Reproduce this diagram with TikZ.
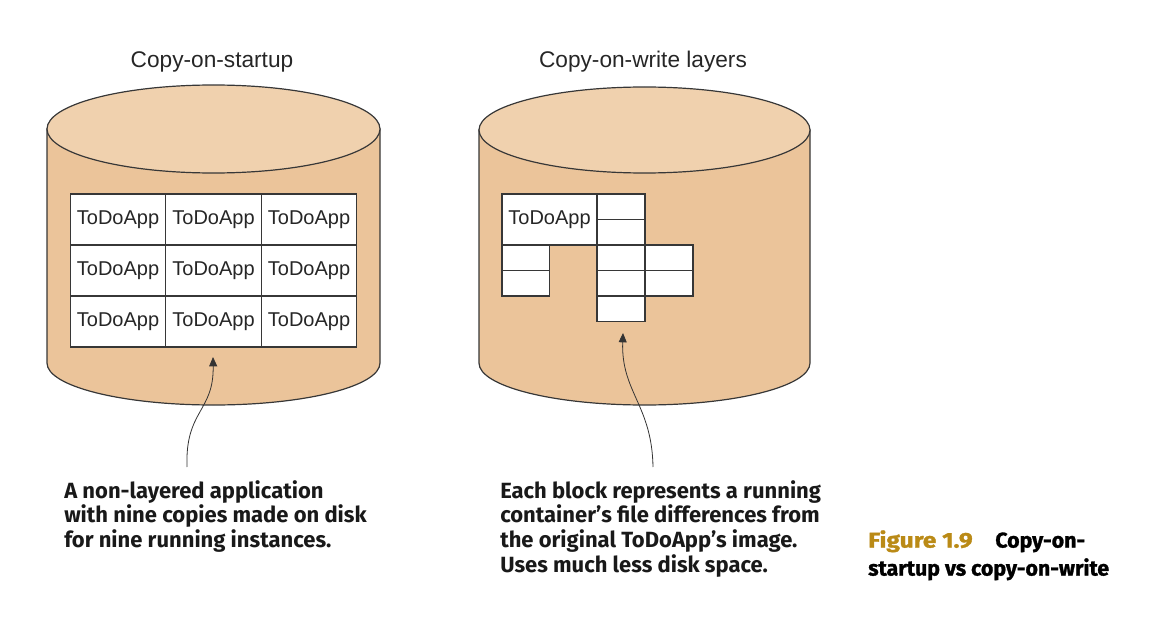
\documentclass[tikz,border=0pt]{standalone}
\usepackage{fontspec}
\usepackage{graphicx}
\setmainfont{Liberation Sans}
\newfontfamily\annfont{Fira Sans}
\newfontfamily\capfont{Fira Sans}[BoldFeatures={FakeBold=1.3}]
\usetikzlibrary{arrows.meta}
\definecolor{cylbody}{RGB}{235,196,154}
\definecolor{cyltop}{RGB}{240,209,174}
\definecolor{edge}{RGB}{55,55,55}
\definecolor{gold}{RGB}{186,138,22}
\tikzset{
  cylline/.style={draw=edge, line width=0.9pt},
  cell/.style={draw=edge, fill=white, line width=0.9pt, inner sep=0pt, font=\fontsize{15}{18}\selectfont, text=black!85},
  bigcell/.style={cell, minimum width=71.8pt, minimum height=38.25pt},
  smallcell/.style={cell, minimum width=36pt, minimum height=19.1pt},
  titletext/.style={font=\fontsize{17}{20}\selectfont, text=black!85},
  anntext/.style={font=\annfont\bfseries\fontsize{16.5}{18.5}\selectfont, align=left, anchor=north west, inner sep=0pt, text=black!90},
  pointer/.style={draw=black!80, line width=0.6pt, -{Triangle[length=7pt,width=6pt]}}
}
\begin{document}
\begin{tikzpicture}[x=0.75pt, y=-0.75pt]
\useasboundingbox (0,0) rectangle (1170,624);
% ---- left cylinder
\path[cylline, fill=cylbody] (47,129) -- (47,363) arc[start angle=180, end angle=0, x radius=166.5, y radius=42] -- (380,129) -- cycle;
\path[cylline, fill=cyltop] (213.5,129) ellipse[x radius=166.5, y radius=44];
% ---- right cylinder
\path[cylline, fill=cylbody] (479,130) -- (479,363) arc[start angle=180, end angle=0, x radius=165.5, y radius=42] -- (810,130) -- cycle;
\path[cylline, fill=cyltop] (644.5,130) ellipse[x radius=165.5, y radius=43];
% ---- titles
\node[titletext] (t1) at (212,62) {Copy-on-startup};
\node[titletext] (t2) at (643,62) {Copy-on-write layers};
% ---- left grid
\foreach \c/\x in {1/118,2/213.5,3/309}{
  \foreach \r/\y in {1/219.5,2/270.5,3/321.5}{
    \node[bigcell] (a\c\r) at (\x,\y) {ToDoApp};
  }
}
% ---- right blocks
\node[bigcell, minimum width=71.3pt] (base) at (549.5,219.5) {ToDoApp};
\foreach \r/\y in {1/206.75,2/232.25,3/257.75,4/283.25,5/308.75}{
  \node[smallcell] (m\r) at (621,\y) {};
}
\node[smallcell, minimum width=35.6pt] (l1) at (525.75,257.75) {};
\node[smallcell, minimum width=35.6pt] (l2) at (525.75,283.25) {};
\node[smallcell] (r1) at (669,257.75) {};
\node[smallcell] (r2) at (669,283.25) {};
% ---- pointers
\coordinate (p1s) at (187,467);
\coordinate (p1e) at (213,357);
\coordinate (p2s) at (653,467);
\coordinate (p2e) at (623,333);
\draw[pointer] (p1s) .. controls (185,410) and (214,412) .. (p1e);
\draw[pointer] (p2s) .. controls (652,405) and (621,392) .. (p2e);
% ---- annotations
\node[anntext] (n1) at (64,480) {A non-layered application\\with nine copies made on disk\\for nine running instances.};
\node[anntext] (n2) at (500,480) {Each block represents a running\\container’s file differences from\\the original ToDoApp’s image.\\Uses much less disk space.};
\node[font=\capfont\bfseries\fontsize{16}{21}\selectfont, align=left, anchor=north west, inner sep=0pt] (cap) at (868,530) {\textcolor{gold}{\scalebox{1.15}[1]{Figure 1.9}}\hspace{17pt}Copy-on-\\startup vs copy-on-write};
\end{tikzpicture}
\end{document}
